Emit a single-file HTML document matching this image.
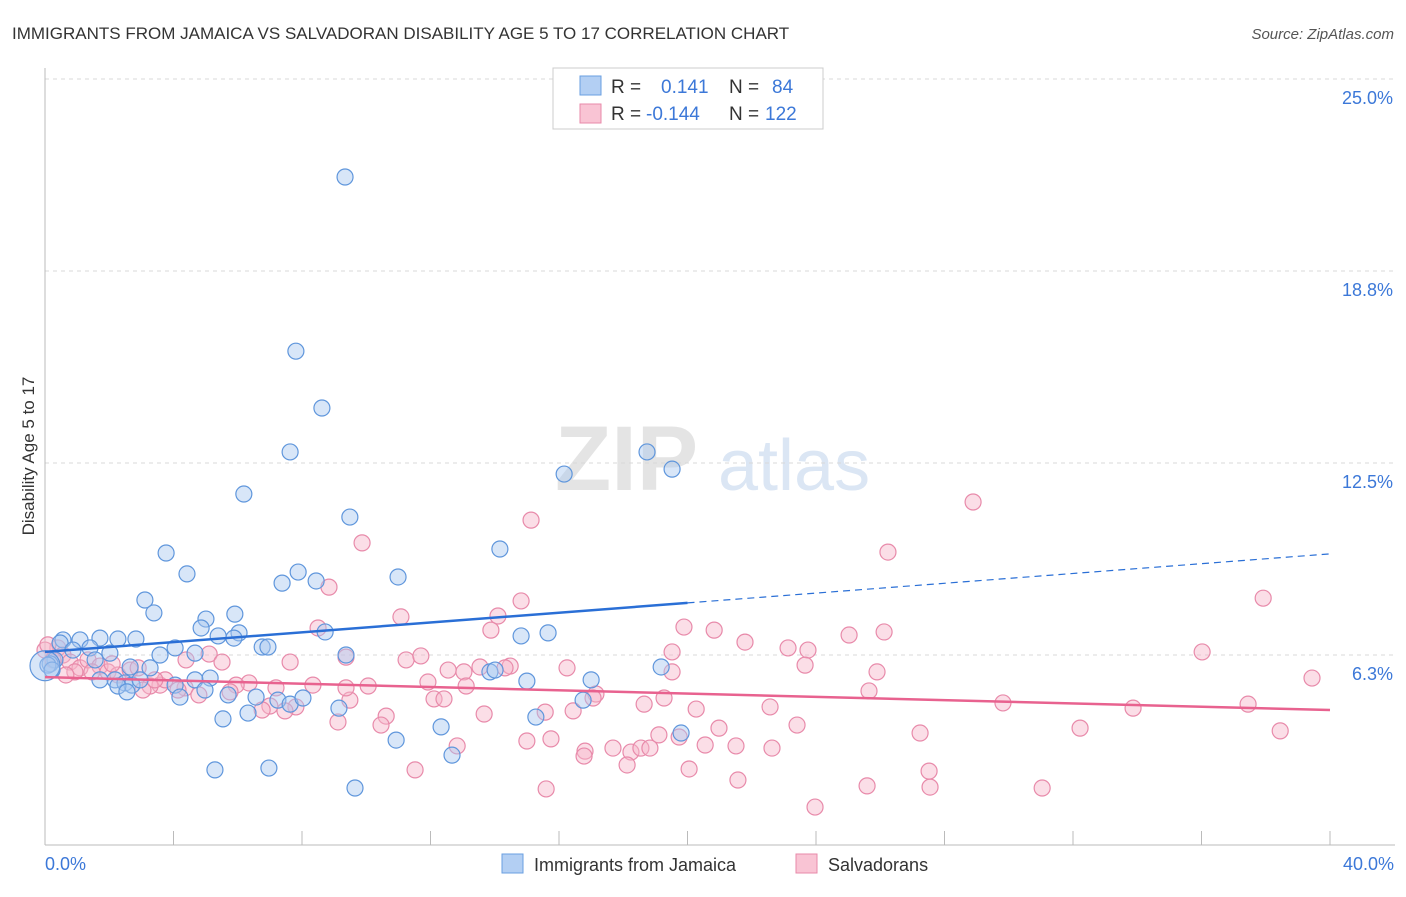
<!DOCTYPE html>
<html><head><meta charset="utf-8">
<style>
body{margin:0;background:#fff;font-family:"Liberation Sans",sans-serif;}
svg text{font-family:"Liberation Sans",sans-serif;}
</style></head>
<body>
<svg id="chart" width="1406" height="892" xmlns="http://www.w3.org/2000/svg">
<text x="12" y="39" font-size="17" fill="#333">IMMIGRANTS FROM JAMAICA VS SALVADORAN DISABILITY AGE 5 TO 17 CORRELATION CHART</text>
<text x="1394" y="39" font-size="15" fill="#555" font-style="italic" text-anchor="end">Source: ZipAtlas.com</text>
<g>
<text x="555" y="490" font-size="92" fill="#e4e4e4" font-family="Liberation Serif,serif" font-weight="bold">ZIP</text>
<text x="718" y="490" font-size="72" fill="#dbe6f4">atlas</text>
</g>
<text transform="translate(34,456) rotate(-90)" font-size="17" fill="#333" text-anchor="middle">Disability Age 5 to 17</text>
<g id="grid"></g>
<g id="axes"></g>
<g id="points"></g>
<g id="trends"></g>
<g>
<rect x="553" y="68" width="270" height="61" fill="#fff" stroke="#ccc"/>
<rect x="580" y="76" width="21" height="19" fill="#b3cff3" stroke="#6a9fe0"/>
<rect x="580" y="104" width="21" height="19" fill="#f9c4d4" stroke="#e88aaa"/>
<text x="611" y="93" font-size="19" fill="#333">R =</text>
<text x="661" y="93" font-size="19" fill="#3c78d8">0.141</text>
<text x="729" y="93" font-size="19" fill="#333">N =</text>
<text x="772" y="93" font-size="19" fill="#3c78d8">84</text>
<text x="611" y="120" font-size="19" fill="#333">R =</text>
<text x="646" y="120" font-size="19" fill="#3c78d8">-0.144</text>
<text x="729" y="120" font-size="19" fill="#333">N =</text>
<text x="765" y="120" font-size="19" fill="#3c78d8">122</text>
</g>
<g>
<rect x="502" y="854" width="21" height="19" fill="#b3cff3" stroke="#6a9fe0"/>
<text x="534" y="871" font-size="18" fill="#333">Immigrants from Jamaica</text>
<rect x="796" y="854" width="21" height="19" fill="#f9c4d4" stroke="#e88aaa"/>
<text x="828" y="871" font-size="18" fill="#333">Salvadorans</text>
</g>
<text x="45" y="870" font-size="18" fill="#3c78d8">0.0%</text>
<text x="1394" y="870" font-size="18" fill="#3c78d8" text-anchor="end">40.0%</text>
</svg>
<script>
const yTicks=[25,18.75,12.5,6.25];
const yTickLabels=["25.0%","18.8%","12.5%","6.3%"];
const xTicks=[0,4,8,12,16,20,24,28,32,36,40];
const blueX=[9.34,7.81,8.62,7.63,6.19,9.49,3.77,4.42,14.16,10.99,7.88,7.38,8.44,3.11,3.39,5.91,5.01,4.86,5.39,6.04,5.88,8.72,14.82,15.66,16.16,18.74,19.52,1.71,2.27,2.83,0.56,1.09,0.47,0.87,1.40,2.02,4.05,3.58,4.67,6.76,6.94,9.37,0.31,0.16,1.56,3.27,2.65,13.85,14.01,15.00,17.00,19.18,2.18,2.49,2.71,2.27,2.55,4.05,4.20,4.67,5.14,5.70,6.57,7.25,7.63,8.03,9.15,16.75,5.54,6.32,15.28,10.93,12.33,12.67,19.80,5.29,6.97,9.65,0.09,0.22,1.71,2.96,4.98,0.0];
const blueY=[21.81,16.14,14.29,12.86,11.49,10.74,9.57,8.89,9.70,8.79,8.95,8.59,8.66,8.04,7.62,7.58,7.42,7.13,6.87,6.97,6.80,7.00,6.87,6.97,12.14,12.86,12.30,6.80,6.77,6.77,6.74,6.74,6.64,6.41,6.48,6.31,6.48,6.25,6.31,6.51,6.51,6.25,6.09,5.96,6.09,5.83,5.86,5.70,5.76,5.40,5.44,5.86,5.44,5.34,5.27,5.24,5.05,5.27,4.88,5.44,5.50,4.95,4.88,4.78,4.65,4.85,4.52,4.78,4.17,4.36,4.23,3.48,3.91,2.99,3.71,2.51,2.57,1.92,5.92,5.76,5.44,5.44,5.11,5.90];
const pinkX=[28.89,26.24,15.13,9.87,37.92,8.84,14.82,11.08,14.10,13.88,19.89,20.83,8.50,21.79,25.03,26.12,23.13,23.75,36.02,39.44,5.11,4.39,5.51,7.63,11.24,11.70,9.37,12.55,13.04,13.54,14.48,14.32,16.25,19.52,19.52,23.66,25.90,17.15,19.27,18.65,25.65,22.57,29.82,33.87,37.45,20.27,16.44,17.06,9.49,10.06,11.92,12.11,12.42,13.11,8.34,9.37,7.19,6.35,5.95,4.36,3.58,3.27,3.05,4.79,5.76,7.00,6.76,7.81,7.47,9.12,10.62,10.46,13.67,15.57,15.00,15.75,16.81,16.78,17.68,18.24,18.55,18.83,19.11,19.74,20.55,20.98,21.51,22.63,23.41,27.24,32.22,38.45,11.52,12.83,18.12,20.05,21.57,15.60,23.97,25.59,27.52,27.55,31.04,0.40,0.56,0.78,1.09,1.34,1.71,1.96,2.27,2.65,2.90,0.00,0.25,0.93,1.46,0.09,0.65,2.09,3.74,4.14,3.42];
const pinkY=[11.23,9.60,10.64,9.90,8.10,8.46,8.01,7.49,7.52,7.06,7.16,7.06,7.13,6.67,6.90,7.00,6.48,6.41,6.35,5.50,6.28,6.09,6.02,6.02,6.09,6.22,6.18,5.76,5.70,5.86,5.89,5.83,5.83,6.35,5.70,5.92,5.70,4.98,4.85,4.65,5.08,4.56,4.69,4.52,4.65,4.49,4.43,4.85,4.78,5.24,5.37,4.82,4.82,5.24,5.27,5.18,5.18,5.34,5.27,5.18,5.27,5.24,5.11,4.95,5.05,4.59,4.46,4.56,4.43,4.07,4.26,3.97,4.33,4.39,3.45,3.52,3.12,2.96,3.22,3.09,3.22,3.22,3.65,3.58,3.32,3.87,3.29,3.22,3.97,3.71,3.87,3.78,2.51,3.29,2.67,2.54,2.18,1.89,1.30,1.99,2.47,1.95,1.92,6.48,6.25,6.02,5.83,6.09,5.89,5.70,5.60,5.76,5.83,6.41,6.09,5.70,5.70,6.58,5.60,5.96,5.44,5.11,5.44];
const blueTrend=[6.35,0.0798];
const pinkTrend=[5.53,-0.0268];
const NS="http://www.w3.org/2000/svg";
function xs(v){return 45+v/40*1285;}
function ys(v){return 847-v*30.72;}
function mk(tag,attrs,parent){const e=document.createElementNS(NS,tag);for(const k in attrs)e.setAttribute(k,attrs[k]);document.getElementById(parent).appendChild(e);return e;}
yTicks.forEach((t,i)=>{
  const l=mk('line',{x1:45,x2:1395,y1:ys(t),y2:ys(t),stroke:'#d8d8d8','stroke-dasharray':'4,4'},'grid');
  
  
  const tx=mk('text',{x:1393,y:ys(t)+25,'font-size':18,fill:'#3c78d8','text-anchor':'end'},'grid');
  tx.textContent=yTickLabels[i];
  
  
});
const ya=mk('line',{x1:45,x2:45,y1:68,y2:845,stroke:'#bbb'},'axes');


const xa=mk('line',{x1:45,x2:1395,y1:845,y2:845,stroke:'#bbb'},'axes');


xTicks.forEach(t=>{
  const l=mk('line',{x1:xs(t),x2:xs(t),y1:831,y2:845,stroke:'#bbb'},'axes');
  
  
});
function pts(X,Y,fill,stroke,name){
  X.forEach((v,i)=>{
    const r=(name==='jamaica-point'&&i===X.length-1)?15:8;
    const c=mk('circle',{cx:xs(v),cy:ys(Y[i]),r:r,fill:fill,'fill-opacity':0.45,stroke:stroke,'stroke-width':1.2},'points');
    
    
  });
}
pts(pinkX,pinkY,'#f7b5ca','#e88aaa','salvadoran-point');
pts(blueX,blueY,'#a9c8f0','#5f96dc','jamaica-point');
function tl(p,x0,x1,col,dash,name){
  const l=mk('line',{x1:xs(x0),y1:ys(p[0]+p[1]*x0),x2:xs(x1),y2:ys(p[0]+p[1]*x1),stroke:col,'stroke-width':dash?1.2:2.5},'trends');
  if(dash)l.setAttribute('stroke-dasharray','7,5');
  
  
}
tl(blueTrend,0,20,'#2a6fd6',false,'jamaica-trend-line');
tl(blueTrend,20,40,'#2a6fd6',true,'jamaica-trend-extension');
tl(pinkTrend,0,40,'#e8628f',false,'salvadoran-trend-line');
</script>
</body></html>
